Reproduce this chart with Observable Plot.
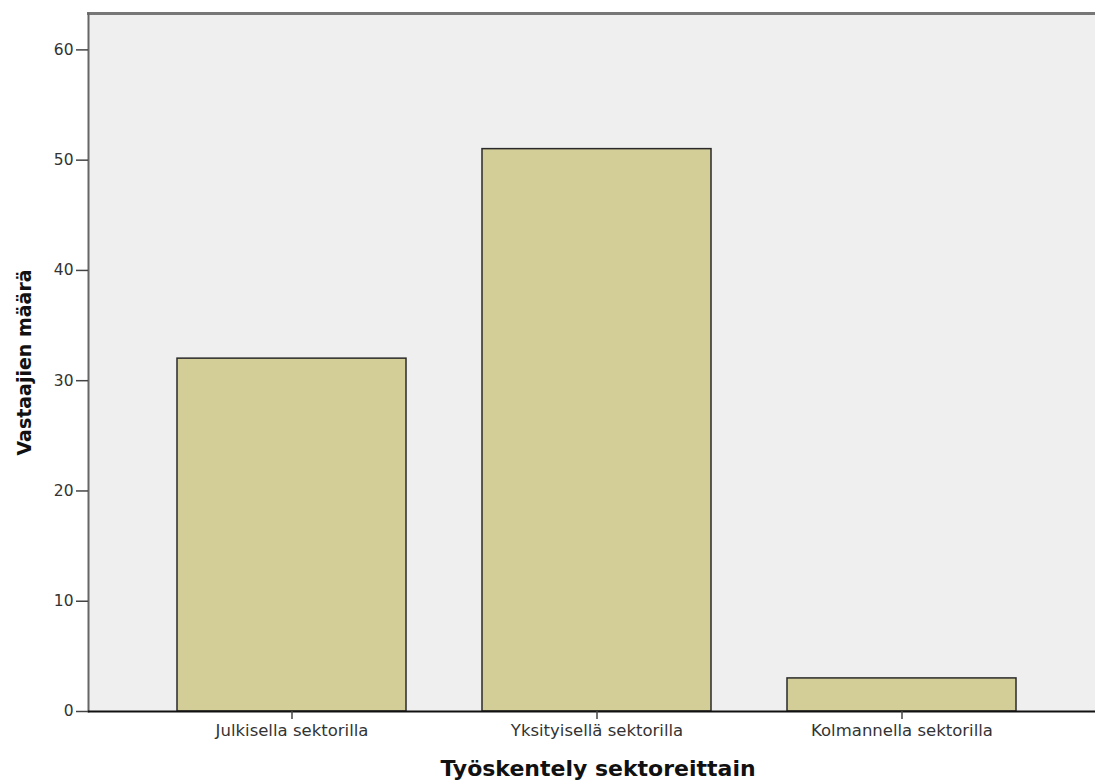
<!DOCTYPE html>
<html>
<head>
<meta charset="utf-8">
<script src="https://cdn.jsdelivr.net/npm/d3@7"></script>
<script src="https://cdn.jsdelivr.net/npm/@observablehq/plot@0.6"></script>
<style>
  html, body { margin: 0; padding: 0; background: #ffffff; }
  #chart svg { display: block; }
  #chart g[aria-label="x-axis title"] text { letter-spacing: 0.4px; }
</style>
</head>
<body>
<div id="chart"></div>
<script>
const categories = ["Julkisella sektorilla", "Yksityisellä sektorilla", "Kolmannella sektorilla"];
const counts = [32, 51, 3];
const yTicks = [0, 10, 20, 30, 40, 50, 60];
const xTitle = "Työskentely sektoreittain";
const yTitle = "Vastaajien määrä";

const data = categories.map((c, i) => ({category: c, count: counts[i]}));

const chart = Plot.plot({
  width: 1095,
  height: 781,
  marginLeft: 88,
  marginRight: 0,
  marginTop: 13,
  marginBottom: 70,
  style: {fontFamily: "'DejaVu Sans', sans-serif", background: "#ffffff", color: "#333"},
  x: {domain: categories, range: [88, 1105], paddingInner: 0.25, paddingOuter: 0.292, align: 0.5},
  y: {domain: [0, 63.3]},
  marks: [
    Plot.frame({fill: "#efefef", stroke: null}),
    Plot.barY(data, {x: "category", y: "count", fill: "#d3ce98", stroke: "#2a2a2a", strokeWidth: 1.5}),
    Plot.frame({anchor: "top", stroke: "#777777", strokeWidth: 3}),
    Plot.frame({anchor: "left", stroke: "#666666", strokeWidth: 2}),
    Plot.ruleY([0], {stroke: "#111111", strokeWidth: 2}),
    Plot.axisY({ticks: yTicks, tickSize: 12, tickPadding: 3, fontSize: 15.5, stroke: "#444", strokeWidth: 1.5, label: null, tickFormat: d => String(d)}),
    Plot.axisX({tickSize: 8, tickPadding: 5, fontSize: 16.5, stroke: "#444", strokeWidth: 1.5, label: null}),
    Plot.text([yTitle], {frameAnchor: "left", dx: -64, rotate: -90, fontSize: 19, fontWeight: "bold", fill: "#111", textAnchor: "middle", ariaLabel: "y-axis title"}),
    Plot.text([xTitle], {frameAnchor: "bottom", dy: 64, dx: 6, fontSize: 22, fontWeight: "bold", fill: "#111", textAnchor: "middle", ariaLabel: "x-axis title"})
  ]
});

document.getElementById("chart").appendChild(chart);
</script>
</body>
</html>
